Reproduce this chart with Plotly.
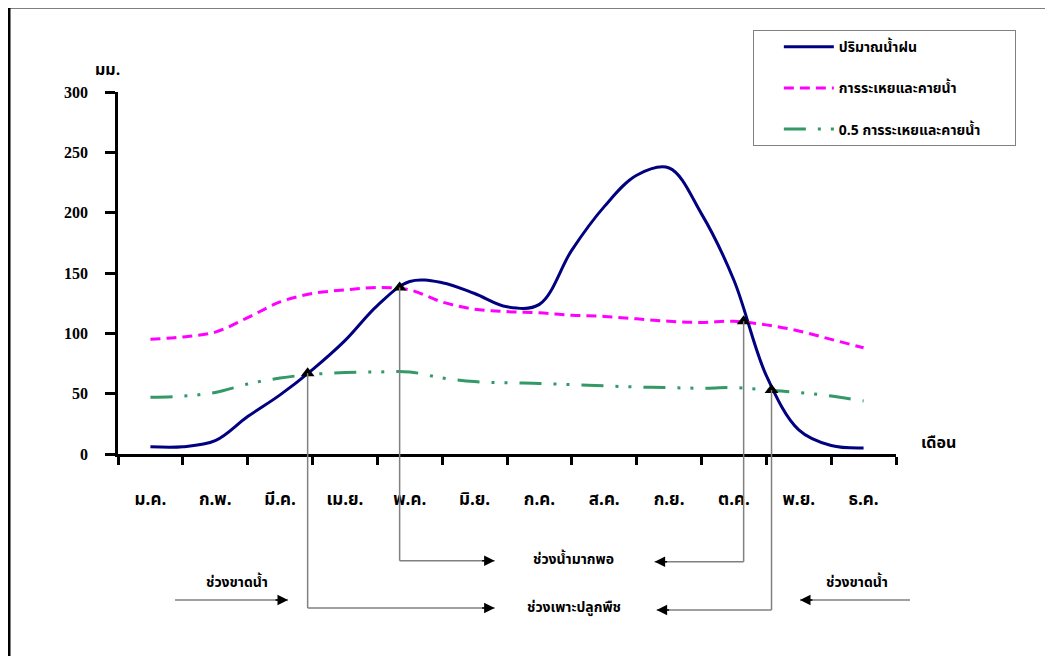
import plotly.graph_objects as go

# ---------------- data ----------------
months = ["ม.ค.", "ก.พ.", "มี.ค.", "เม.ย.", "พ.ค.", "มิ.ย.",
          "ก.ค.", "ส.ค.", "ก.ย.", "ต.ค.", "พ.ย.", "ธ.ค."]
month_idx = [0, 1, 2, 3, 4, 5, 6, 7, 8, 9, 10, 11]
boundaries = [-0.5, 0.5, 1.5, 2.5, 3.5, 4.5, 5.5, 6.5, 7.5, 8.5, 9.5, 10.5, 11.5]

# half-month sample positions (month index)
pos = [0, 0.5, 1, 1.5, 2, 2.5, 3, 3.5, 4, 4.5, 5, 5.5,
       6, 6.5, 7, 7.5, 8, 8.5, 9, 9.5, 10, 10.5, 11]
rain = [6, 6, 11, 31, 49, 70, 94, 123, 143, 142, 133, 122,
        124, 169, 205, 231, 237, 199, 144, 65, 20, 7, 5]
et = [95, 97, 101, 113, 126, 133, 136, 138, 136, 126, 120, 118,
      117, 115, 114, 112, 110, 109, 110, 107, 102, 95, 88]
et_half = [47, 48, 51, 58, 63, 66, 67.5, 68, 68, 63, 60, 59,
           58.5, 57.5, 56.5, 55.5, 55, 54.5, 55, 53, 51, 48, 44]

# crossing points (month index, mm)
cross_x = [2.425, 3.844, 9.15, 9.58]
cross_y = [67, 138, 110, 53]
# paper-y of the bracket bottoms for each crossing
cross_bottom = [-0.4254, -0.2948, -0.2975, -0.431]
# month-index where each bracket's arrow head ends
cross_head = [5.309, 5.309, 7.777, 7.808]

legend_names = ["ปริมาณน้ำฝน", "การระเหยและคายน้ำ",
                "0.5 การระเหยและคายน้ำ\u00a0\u00a0\u00a0\u00a0\u00a0\u00a0\u00a0\u00a0"]

THAI = "Noto Sans Thai, Tahoma, Loma, Garuda, Noto Sans, sans-serif"
SERIF = "Liberation Serif, Times New Roman, serif"

fig = go.Figure()

fig.add_trace(go.Scatter(
    x=pos, y=rain, mode="lines", name=legend_names[0], legendgroup="a",
    line=dict(color="#000080", width=3, shape="spline", smoothing=1.0)))
fig.add_trace(go.Scatter(
    x=pos, y=et, mode="lines", name=legend_names[1], legendgroup="b",
    line=dict(color="#FF00FF", width=3, dash="10px,6px", shape="spline", smoothing=1.0)))
fig.add_trace(go.Scatter(
    x=pos, y=et_half, mode="lines", name=legend_names[2], legendgroup="c",
    line=dict(color="#339966", width=3, dash="22px,12px,3px,10px,3px,12px",
              shape="spline", smoothing=1.0)))
fig.add_trace(go.Scatter(
    x=cross_x, y=cross_y, mode="markers", showlegend=False, cliponaxis=False,
    marker=dict(symbol="triangle-up", size=12, color="black")))

shapes = []
annotations = []
GRAY = "#808080"

for cx, cy, yb, hx in zip(cross_x, cross_y, cross_bottom, cross_head):
    shapes.append(dict(type="line", xref="x", yref="y", x0=cx, x1=cx, y0=cy, y1=0,
                       line=dict(color=GRAY, width=1.5)))
    shapes.append(dict(type="line", xref="x", yref="paper", x0=cx, x1=cx, y0=0, y1=yb,
                       line=dict(color=GRAY, width=1.5)))
    shapes.append(dict(type="line", xref="x", yref="paper", x0=cx, x1=hx, y0=yb, y1=yb,
                       line=dict(color=GRAY, width=1.5)))
    direction = -1 if hx > cx else 1
    annotations.append(dict(x=hx, y=yb, xref="x", yref="paper", text="", showarrow=True,
                            ax=direction * 14, ay=0, arrowhead=2, arrowsize=1.4,
                            arrowwidth=1.5, arrowcolor="black", standoff=0))

# "ช่วงขาดน้ำ" arrows (paper coords)
side_y = -0.403
shapes.append(dict(type="line", xref="paper", yref="paper", x0=0.0733, x1=0.2185,
                   y0=side_y, y1=side_y, line=dict(color=GRAY, width=1.5)))
annotations.append(dict(x=0.2185, y=side_y, xref="paper", yref="paper", text="",
                        showarrow=True, ax=-14, ay=0, arrowhead=2, arrowsize=1.4,
                        arrowwidth=1.5, arrowcolor="black", standoff=0))
shapes.append(dict(type="line", xref="paper", yref="paper", x0=1.018, x1=0.8766,
                   y0=side_y, y1=side_y, line=dict(color=GRAY, width=1.5)))
annotations.append(dict(x=0.8766, y=side_y, xref="paper", yref="paper", text="",
                        showarrow=True, ax=14, ay=0, arrowhead=2, arrowsize=1.4,
                        arrowwidth=1.5, arrowcolor="black", standoff=0))

# outer frame (open on the right / bottom of the picture)
shapes.append(dict(type="rect", xref="paper", yref="paper", x0=-0.1401, x1=1.25,
                   y0=-0.65, y1=1.2348, line=dict(color="black", width=3), layer="above"))

txt_font = dict(family=THAI, size=14, color="black", weight="bold")
for t, x, y in [("ช่วงน้ำมากพอ", 0.5861, -0.2928),
                ("ช่วงเพาะปลูกพืช", 0.5861, -0.4227),
                ("ช่วงขาดน้ำ", 0.153, -0.3536),
                ("ช่วงขาดน้ำ", 0.950, -0.3536)]:
    annotations.append(dict(x=x, y=y, xref="paper", yref="paper", text=t, showarrow=False,
                            xanchor="center", yanchor="middle", font=txt_font))
big_font = dict(family=THAI, size=16, color="black", weight="bold")
annotations.append(dict(x=-0.0129, y=1.061, xref="paper", yref="paper", text="มม.",
                        showarrow=False, xanchor="center", yanchor="middle", font=big_font))
annotations.append(dict(x=1.054, y=0.0304, xref="paper", yref="paper", text="เดือน",
                        showarrow=False, xanchor="center", yanchor="middle", font=big_font))

fig.update_layout(
    width=1053, height=656,
    margin=dict(l=110, r=165, t=84, b=210),
    paper_bgcolor="white", plot_bgcolor="white",
    showlegend=True,
    legend=dict(x=0.816, y=1.171, xanchor="left", yanchor="top",
                bordercolor="#808080", borderwidth=1, bgcolor="white",
                tracegroupgap=20, indentation=25, itemwidth=50,
                font=dict(family=THAI, size=14, color="black", weight="bold")),
    shapes=shapes, annotations=annotations,
    xaxis=dict(range=[-0.5, 11.5], tickmode="array", tickvals=month_idx, ticktext=months,
               ticks="", showgrid=False, zeroline=False, showline=True,
               linecolor="black", linewidth=2.5, ticklabelstandoff=28,
               tickfont=dict(family=THAI, size=17, color="black", weight="bold"),
               minor=dict(tickmode="array", tickvals=boundaries, ticks="outside",
                          ticklen=8, tickwidth=2.5, tickcolor="black", showgrid=False)),
    yaxis=dict(range=[0, 300], tickvals=[0, 50, 100, 150, 200, 250, 300],
               ticks="outside", ticklen=10, tickwidth=2.5, tickcolor="black",
               showgrid=False, zeroline=False, showline=True,
               linecolor="black", linewidth=2.5, ticklabelstandoff=14,
               tickfont=dict(family=SERIF, size=16, color="black", weight="bold")),
)

fig.write_html("out.html")
